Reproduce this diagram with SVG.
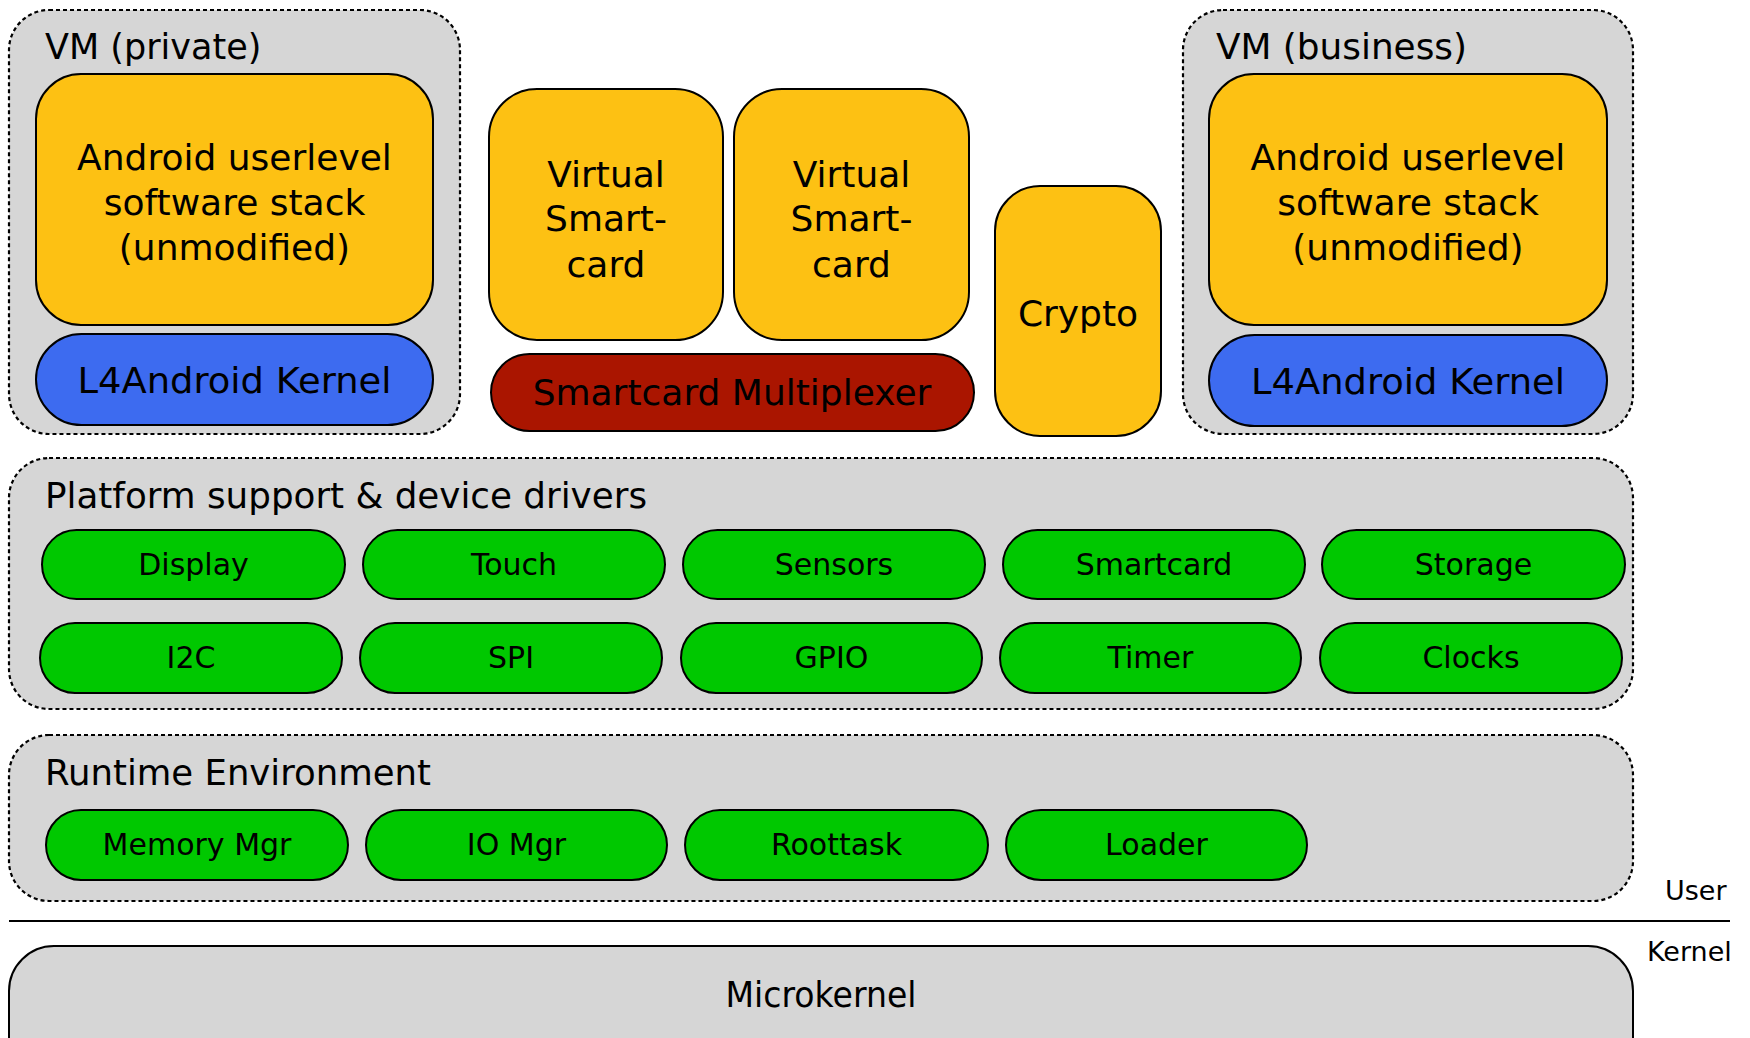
<svg xmlns="http://www.w3.org/2000/svg" width="1750" height="1038" viewBox="0 0 1750 1038">
<style>
.grp{fill:#d6d6d6;stroke:#000;stroke-width:2.2;stroke-dasharray:4 3}
.or{fill:#fdc113;stroke:#000;stroke-width:2}
.bl{fill:#3d6bf0;stroke:#000;stroke-width:2}
.rd{fill:#aa1500;stroke:#000;stroke-width:2}
.gr{fill:#00c800;stroke:#000;stroke-width:2}
.mk{fill:#d6d6d6;stroke:#000;stroke-width:2}
text{font-family:"DejaVu Sans","Liberation Sans",sans-serif;fill:#000}
.t{font-size:35px}
.b{font-size:36px;text-anchor:middle}
.k{font-size:36px;text-anchor:middle}
.p{font-size:30px;text-anchor:middle}
.s{font-size:27px}
</style>
<rect width="1750" height="1038" fill="#fff"/>

<g id="vm-private">
<rect class="grp" x="9" y="10" width="451" height="424" rx="40"/>
<text class="t" x="45" y="59">VM (private)</text>
</g>
<g id="android-private">
<rect class="or" x="36" y="74" width="397" height="251" rx="45"/>
<text class="b" x="234.5" y="170">Android userlevel</text>
<text class="b" x="234.5" y="215">software stack</text>
<text class="b" x="234.5" y="260">(unmodified)</text>
</g>
<g id="kernel-private">
<rect class="bl" x="36" y="334" width="397" height="91" rx="45.5"/>
<text class="k" x="234.5" y="393" textLength="314" lengthAdjust="spacingAndGlyphs">L4Android Kernel</text>
</g>

<g id="vsc1">
<rect class="or" x="489" y="89" width="234" height="251" rx="48"/>
<text class="b" x="606" y="187">Virtual</text>
<text class="b" x="606" y="231">Smart-</text>
<text class="b" x="606" y="277">card</text>
</g>
<g id="vsc2">
<rect class="or" x="734" y="89" width="235" height="251" rx="48"/>
<text class="b" x="851.5" y="187">Virtual</text>
<text class="b" x="851.5" y="231">Smart-</text>
<text class="b" x="851.5" y="277">card</text>
</g>
<g id="mux">
<rect class="rd" x="491" y="354" width="483" height="77" rx="38.5"/>
<text class="b" x="732" y="405">Smartcard Multiplexer</text>
</g>
<g id="crypto">
<rect class="or" x="995" y="186" width="166" height="250" rx="45"/>
<text class="b" x="1078" y="326">Crypto</text>
</g>

<g id="vm-business">
<rect class="grp" x="1183" y="10" width="450" height="424" rx="40"/>
<text class="t" x="1216" y="59" textLength="251" lengthAdjust="spacingAndGlyphs">VM (business)</text>
</g>
<g id="android-business">
<rect class="or" x="1209" y="74" width="398" height="251" rx="45"/>
<text class="b" x="1408" y="170">Android userlevel</text>
<text class="b" x="1408" y="215">software stack</text>
<text class="b" x="1408" y="260">(unmodified)</text>
</g>
<g id="kernel-business">
<rect class="bl" x="1209" y="335" width="398" height="91" rx="45.5"/>
<text class="k" x="1408" y="394" textLength="314" lengthAdjust="spacingAndGlyphs">L4Android Kernel</text>
</g>

<g id="platform">
<rect class="grp" x="9" y="458" width="1624" height="251" rx="40"/>
<text class="t" x="45" y="508" textLength="602" lengthAdjust="spacingAndGlyphs">Platform support &amp; device drivers</text>
</g>
<g id="display"><rect class="gr" x="42" y="530" width="303" height="69" rx="34.5"/><text class="p" x="193.5" y="575">Display</text></g>
<g id="touch"><rect class="gr" x="363" y="530" width="302" height="69" rx="34.5"/><text class="p" x="514" y="575">Touch</text></g>
<g id="sensors"><rect class="gr" x="683" y="530" width="302" height="69" rx="34.5"/><text class="p" x="834" y="575">Sensors</text></g>
<g id="smartcard"><rect class="gr" x="1003" y="530" width="302" height="69" rx="34.5"/><text class="p" x="1154" y="575">Smartcard</text></g>
<g id="storage"><rect class="gr" x="1322" y="530" width="303" height="69" rx="34.5"/><text class="p" x="1473.5" y="575">Storage</text></g>
<g id="i2c"><rect class="gr" x="40" y="623" width="302" height="70" rx="35"/><text class="p" x="191" y="668">I2C</text></g>
<g id="spi"><rect class="gr" x="360" y="623" width="302" height="70" rx="35"/><text class="p" x="511" y="668">SPI</text></g>
<g id="gpio"><rect class="gr" x="681" y="623" width="301" height="70" rx="35"/><text class="p" x="831.5" y="668">GPIO</text></g>
<g id="timer"><rect class="gr" x="1000" y="623" width="301" height="70" rx="35"/><text class="p" x="1150.5" y="668">Timer</text></g>
<g id="clocks"><rect class="gr" x="1320" y="623" width="302" height="70" rx="35"/><text class="p" x="1471" y="668">Clocks</text></g>

<g id="runtime">
<rect class="grp" x="9" y="735" width="1624" height="166" rx="40"/>
<text class="t" x="45" y="785" textLength="386" lengthAdjust="spacingAndGlyphs">Runtime Environment</text>
</g>
<g id="memmgr"><rect class="gr" x="46" y="810" width="302" height="70" rx="35"/><text class="p" x="197" y="855">Memory Mgr</text></g>
<g id="iomgr"><rect class="gr" x="366" y="810" width="301" height="70" rx="35"/><text class="p" x="516.5" y="855">IO Mgr</text></g>
<g id="roottask"><rect class="gr" x="685" y="810" width="303" height="70" rx="35"/><text class="p" x="836.5" y="855">Roottask</text></g>
<g id="loader"><rect class="gr" x="1006" y="810" width="301" height="70" rx="35"/><text class="p" x="1156.5" y="855">Loader</text></g>

<g id="connectors">
<line x1="9" y1="921" x2="1730" y2="921" stroke="#000" stroke-width="2"/>
</g>
<text class="s" x="1665" y="900">User</text>
<text class="s" x="1647" y="961">Kernel</text>

<g id="microkernel">
<rect class="mk" x="9" y="946" width="1624" height="150" rx="45"/>
<text x="821" y="1007" font-family="'Liberation Sans',Arial,sans-serif" font-size="36" text-anchor="middle" textLength="191" lengthAdjust="spacingAndGlyphs">Microkernel</text>
</g>
</svg>
